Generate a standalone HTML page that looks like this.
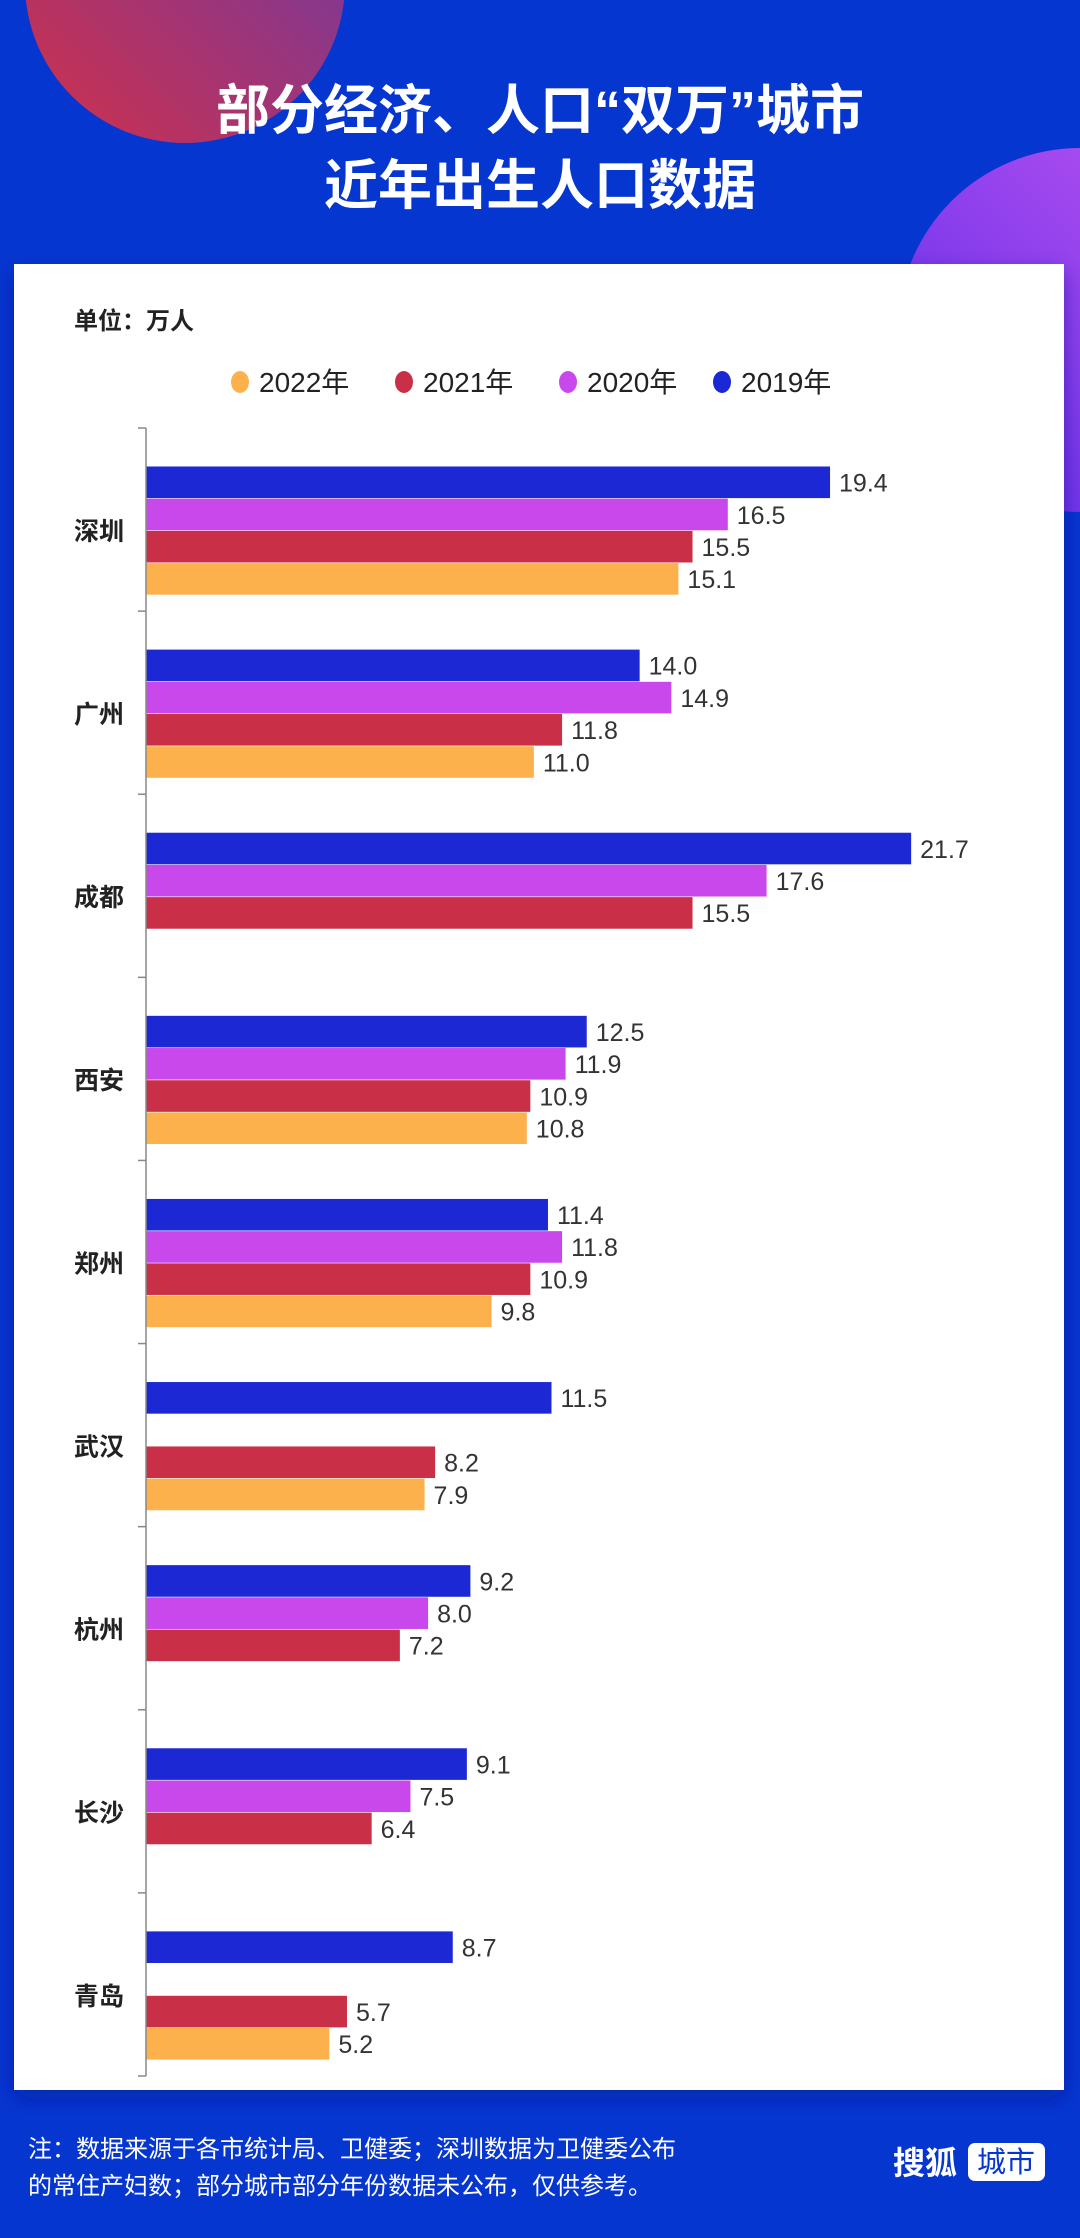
<!DOCTYPE html>
<html><head><meta charset="utf-8">
<style>
html,body{margin:0;padding:0;}
body{width:1080px;height:2238px;overflow:hidden;background:#0636d0;font-family:"Liberation Sans","Noto Sans CJK SC",sans-serif;position:relative;}
</style></head>
<body>
<svg width="1080" height="2238" viewBox="0 0 1080 2238" xmlns="http://www.w3.org/2000/svg" style="position:absolute;left:0;top:0" font-family="Liberation Sans, Noto Sans CJK SC, sans-serif">
<defs>
<linearGradient id="g1" x1="0" y1="1" x2="1" y2="0"><stop offset="0" stop-color="#d0304a"/><stop offset="1" stop-color="#6a3aa8"/></linearGradient>
<linearGradient id="g2" x1="1" y1="0" x2="0" y2="1"><stop offset="0" stop-color="#c055f2"/><stop offset="1" stop-color="#5a2ae6"/></linearGradient>
<filter id="sh" x="-5%" y="-5%" width="110%" height="110%"><feDropShadow dx="0" dy="8" stdDeviation="10" flood-color="#001a80" flood-opacity="0.45"/></filter>
</defs>
<circle cx="185" cy="-17" r="160" fill="url(#g1)"/>
<circle cx="1080" cy="330" r="182" fill="url(#g2)"/>
<text x="540" y="129" text-anchor="middle" fill="#fff" font-size="54" font-weight="bold">部分经济、人口“双万”城市</text>
<text x="540" y="204" text-anchor="middle" fill="#fff" font-size="54" font-weight="bold">近年出生人口数据</text>
<rect x="14" y="264" width="1050" height="1826" fill="#fff" filter="url(#sh)"/>
<text x="74" y="329" fill="#222" font-size="24" font-weight="bold">单位：万人</text>
<g id="legend"></g>
<g id="chart"></g>
<text x="28" y="2157" fill="#fff" font-size="24">注：数据来源于各市统计局、卫健委；深圳数据为卫健委公布</text>
<text x="28" y="2194" fill="#fff" font-size="24">的常住产妇数；部分城市部分年份数据未公布，仅供参考。</text>
<text x="893" y="2174" fill="#fff" font-size="32" font-weight="bold">搜狐</text>
<rect x="968" y="2143" width="77" height="38" rx="7" fill="#fff"/>
<text x="1006" y="2172" text-anchor="middle" fill="#0636d0" font-size="29">城市</text>
</svg>
<script>
const cities = ["深圳","广州","成都","西安","郑州","武汉","杭州","长沙","青岛"];
const seriesNames = ["2019年","2020年","2021年","2022年"];
const v2019 = [19.4,14.0,21.7,12.5,11.4,11.5,9.2,9.1,8.7];
const v2020 = [16.5,14.9,17.6,11.9,11.8,null,8.0,7.5,null];
const v2021 = [15.5,11.8,15.5,10.9,10.9,8.2,7.2,6.4,5.7];
const v2022 = [15.1,11.0,null,10.8,9.8,7.9,null,null,5.2];
const legendOrder = ["2022年","2021年","2020年","2019年"];

const colors = {"2019年":"#1b28d4","2020年":"#c848ec","2021年":"#c92f47","2022年":"#fdb14c"};
const NS = "http://www.w3.org/2000/svg";
const x0 = 146, pxPerUnit = 35.26, axisTop = 428, axisBottom = 2076;
const band = (axisBottom - axisTop) / cities.length;
const barH = 32.2;
function xScale(v){ return x0 + v * pxPerUnit; }
function bandY(i){ return axisTop + i * band; }
function mk(tag, attrs){ const e=document.createElementNS(NS,tag); for(const k in attrs) e.setAttribute(k,attrs[k]); return e; }

const chart = document.getElementById('chart');
const all = [v2019, v2020, v2021, v2022];
cities.forEach((c,i)=>{
  const top = bandY(i) + 38.5;
  const lbl = mk('text',{x:74,y:top+2*barH+9,'font-size':25,'font-weight':'bold',fill:'#222'});
  lbl.textContent = c;
  
  
  chart.appendChild(lbl);
  all.forEach((arr,s)=>{
    const v = arr[i];
    if(v===null) return;
    const y = top + s*barH;
    const r = mk('rect',{x:x0,y:y,width:xScale(v)-x0,height:barH-0.6,fill:colors[seriesNames[s]]});
    
    
    chart.appendChild(r);
    const t = mk('text',{x:xScale(v)+9,y:y+barH/2+9,'font-size':25,fill:'#333'});
    t.textContent = v.toFixed(1);
    
    
    chart.appendChild(t);
  });
});
const ax = mk('line',{x1:x0,y1:axisTop,x2:x0,y2:axisBottom,stroke:'#888','stroke-width':1.5});


chart.appendChild(ax);
for(let i=0;i<=cities.length;i++){
  const tk = mk('line',{x1:x0-8,y1:bandY(i),x2:x0,y2:bandY(i),stroke:'#888','stroke-width':1.5});
  
  
  chart.appendChild(tk);
}
const legend = document.getElementById('legend');
const lx = [240,404,568,722];
legendOrder.forEach((n,k)=>{
  const c = mk('ellipse',{cx:lx[k],cy:382,rx:9,ry:11,fill:colors[n]});
  
  
  legend.appendChild(c);
  const t = mk('text',{x:lx[k]+19,y:392,'font-size':28,fill:'#222'});
  t.textContent = n;
  
  
  legend.appendChild(t);
});
</script>
</body></html>
